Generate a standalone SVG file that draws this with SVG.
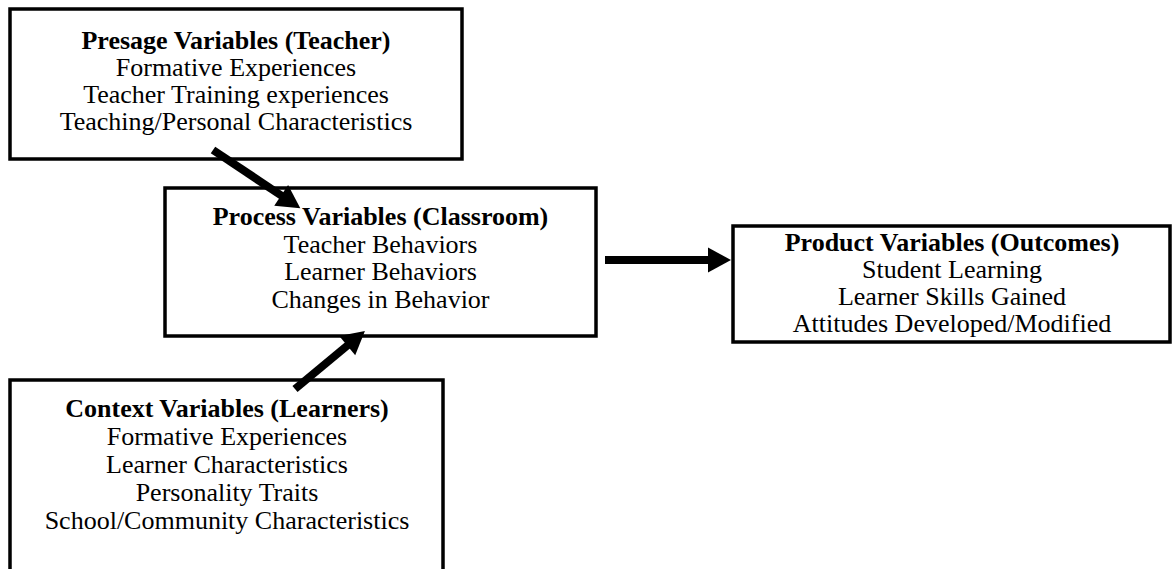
<svg xmlns="http://www.w3.org/2000/svg" width="1173" height="569" viewBox="0 0 1173 569">
  <style>
    .box { fill: #ffffff; stroke: #000000; stroke-width: 3.5; }
    .t { font-family: "Liberation Serif", "Times New Roman", serif; font-size: 26px; fill: #000000; text-anchor: middle; }
    .h { font-weight: bold; }
    .conn { stroke: #000000; stroke-width: 8; fill: none; marker-end: url(#head); }
  </style>
  <defs>
    <marker id="head" markerUnits="userSpaceOnUse" viewBox="-2 -13 25 26" markerWidth="25" markerHeight="26" refX="0" refY="0" orient="auto">
      <path d="M-1,-12.5 L22,0 L-1,12.5 Z" fill="#000000"/>
    </marker>
  </defs>
  <rect width="1173" height="569" fill="#ffffff"/>

  <g id="presage">
    <rect class="box" x="10" y="9" width="452" height="150"/>
    <text class="t h" x="236" y="49">Presage Variables (Teacher)</text>
    <text class="t" x="236" y="76">Formative Experiences</text>
    <text class="t" x="236" y="103">Teacher Training experiences</text>
    <text class="t" x="236" y="130">Teaching/Personal Characteristics</text>
  </g>

  <g id="process">
    <rect class="box" x="165" y="188" width="431" height="148"/>
    <text class="t h" x="380.5" y="225">Process Variables (Classroom)</text>
    <text class="t" x="380.5" y="252.5">Teacher Behaviors</text>
    <text class="t" x="380.5" y="280">Learner Behaviors</text>
    <text class="t" x="380.5" y="307.5">Changes in Behavior</text>
  </g>

  <g id="product">
    <rect class="box" x="733" y="226" width="437" height="116"/>
    <text class="t h" x="952" y="251">Product Variables (Outcomes)</text>
    <text class="t" x="952" y="278">Student Learning</text>
    <text class="t" x="952" y="305">Learner Skills Gained</text>
    <text class="t" x="952" y="332">Attitudes Developed/Modified</text>
  </g>

  <g id="context">
    <rect class="box" x="10" y="380" width="433" height="240"/>
    <text class="t h" x="227" y="417">Context Variables (Learners)</text>
    <text class="t" x="227" y="445">Formative Experiences</text>
    <text class="t" x="227" y="473">Learner Characteristics</text>
    <text class="t" x="227" y="501">Personality Traits</text>
    <text class="t" x="227" y="529">School/Community Characteristics</text>
  </g>

  <g id="connectors">
    <line class="conn" x1="213" y1="150" x2="282" y2="196"/>
    <line class="conn" x1="295" y1="389" x2="348" y2="345"/>
    <line class="conn" x1="605" y1="260" x2="709" y2="260"/>
  </g>
</svg>
